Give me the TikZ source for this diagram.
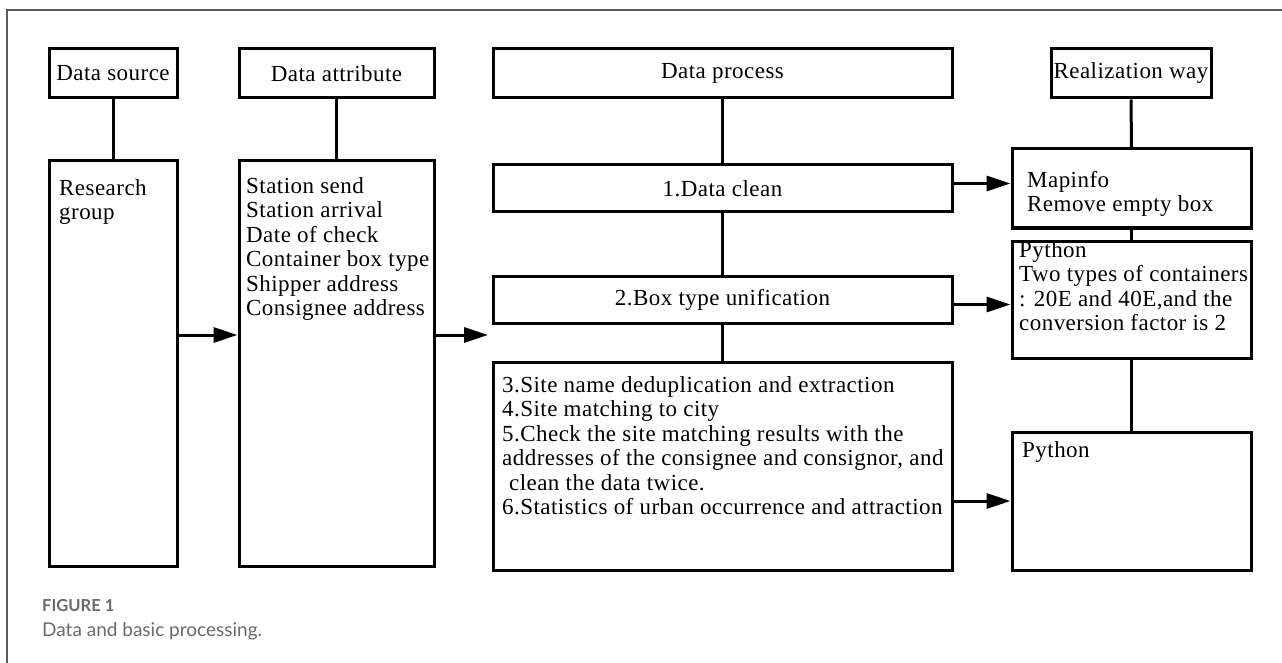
\documentclass[tikz,border=0pt]{standalone}
\usepackage{fontspec}
\usetikzlibrary{arrows.meta}
\newfontfamily\tnr[LetterSpace=2]{Liberation Serif}
\newfontfamily\capfont{Lato}
\definecolor{framegray}{HTML}{5A5A5A}
\definecolor{capgray}{HTML}{6A6A6A}
\tikzset{
  box/.style={draw=black, line width=3pt, inner sep=0pt, rectangle},
  conn/.style={line width=3pt},
  arr/.style={line width=3pt, -{Triangle[length=24pt,width=15pt]}},
  txt/.style={inner sep=0pt, align=left, font={\tnr\fontsize{23}{24.5}\selectfont}},
  ctxt/.style={inner sep=0pt, font={\tnr\fontsize{23}{24.5}\selectfont}},
}
\begin{document}
\begin{tikzpicture}[x=1pt,y=-1pt]
\useasboundingbox (0,0) rectangle (1282,663);
% frame
\coordinate (fbl) at (7,663);
\coordinate (ftl) at (7,10);
\coordinate (ftr) at (1282,10);
\draw[framegray, line width=1.3pt] (fbl) -- (ftl) -- (ftr);

% column 1
\node[box, minimum width=128pt, minimum height=49pt] (src) at (113,73.5) {};
\node[ctxt] (srcT) at (src.center) {Data source};
\node[box, minimum width=128pt, minimum height=405pt] (rg) at (113,363.5) {};
\node[txt, anchor=base west] (rgT) at (59,219.5) {Research\\group};

% column 2
\node[box, minimum width=195pt, minimum height=49pt] (attr) at (336.5,73.5) {};
\node[ctxt] (attrT) at (attr.center) {Data attribute};
\node[box, minimum width=195pt, minimum height=405pt] (st) at (336.5,363.5) {};
\node[txt, anchor=base west] (stT) at (246,315.5) {Station send\\Station arrival\\Date of check\\Container box type\\Shipper address\\Consignee address};

% column 3
\node[box, minimum width=459pt, minimum height=49pt] (proc) at (722.5,73.5) {};
\node[ctxt] (procT) at (proc.center) {Data process};
\node[box, minimum width=459pt, minimum height=47pt] (clean) at (722.5,188.5) {};
\node[ctxt] (cleanT) at (clean.center) {1.Data clean};
\node[box, minimum width=459pt, minimum height=47pt] (unif) at (722.5,299.5) {};
\node[ctxt] (unifT) at (unif.center) {2.Box type unification};
\node[box, minimum width=459pt, minimum height=208pt] (b3) at (722.5,466) {};
\node[txt, anchor=base west] (b3T) at (502,514.5) {3.Site name deduplication and extraction\\4.Site matching to city\\5.Check the site matching results with the\\addresses of the consignee and consignor, and\\\hspace*{0.3em}clean the data twice.\\6.Statistics of urban occurrence and attraction};

% column 4
\node[box, minimum width=160pt, minimum height=49pt] (real) at (1131,73.5) {};
\node[ctxt] (realT) at (real.center) {Realization way};
\node[box, minimum width=239pt, minimum height=79pt] (map) at (1131.5,188.5) {};
\node[txt, anchor=base west] (mapT) at (1027,211.5) {Mapinfo\\Remove empty box};
\node[box, minimum width=239pt, minimum height=117pt] (py) at (1131.5,299.5) {};
\node[txt, anchor=base west] (pyT) at (1019,330.5) {Python\\Two types of containers\\: 20E and 40E,and the\\conversion factor is 2};
\node[box, minimum width=239pt, minimum height=138pt] (py2) at (1131.5,501) {};
\node[txt, anchor=base west] (py2T) at (1022,457) {Python};

% connectors
\draw[conn] (src.south) -- (rg.north);
\draw[conn] (attr.south) -- (st.north);
\draw[conn] (proc.south) -- (clean.north);
\draw[conn] (clean.south) -- (unif.north);
\draw[conn] (unif.south) -- (b3.north);
\draw[conn] (real.south) -- (map.north);
\draw[conn] (map.south) -- (py.north);
\draw[conn] (py.south) -- (py2.north);

% arrows
\coordinate (a3end) at (488,335);
\draw[arr] ([yshift=28.5pt]rg.east) -- ([yshift=28.5pt]st.west);
\draw[arr] (st.east |- a3end) -- (a3end);
\draw[arr] ([yshift=5pt]clean.east) -- ([yshift=5pt]map.west);
\draw[arr] ([yshift=-5pt]unif.east) -- ([yshift=-5pt]py.west);
\draw[arr] (b3.east |- py2.west) -- (py2.west);

% caption
\node[inner sep=0pt, anchor=base west, text=capgray, font={\capfont\bfseries\fontsize{16.5}{19}\selectfont}] (capA) at (42,611) {FIGURE 1};
\node[inner sep=0pt, anchor=base west, text=capgray, font={\capfont\fontsize{19}{23}\selectfont}] (capB) at (42,636) {Data and basic processing.};
\end{tikzpicture}
\end{document}
